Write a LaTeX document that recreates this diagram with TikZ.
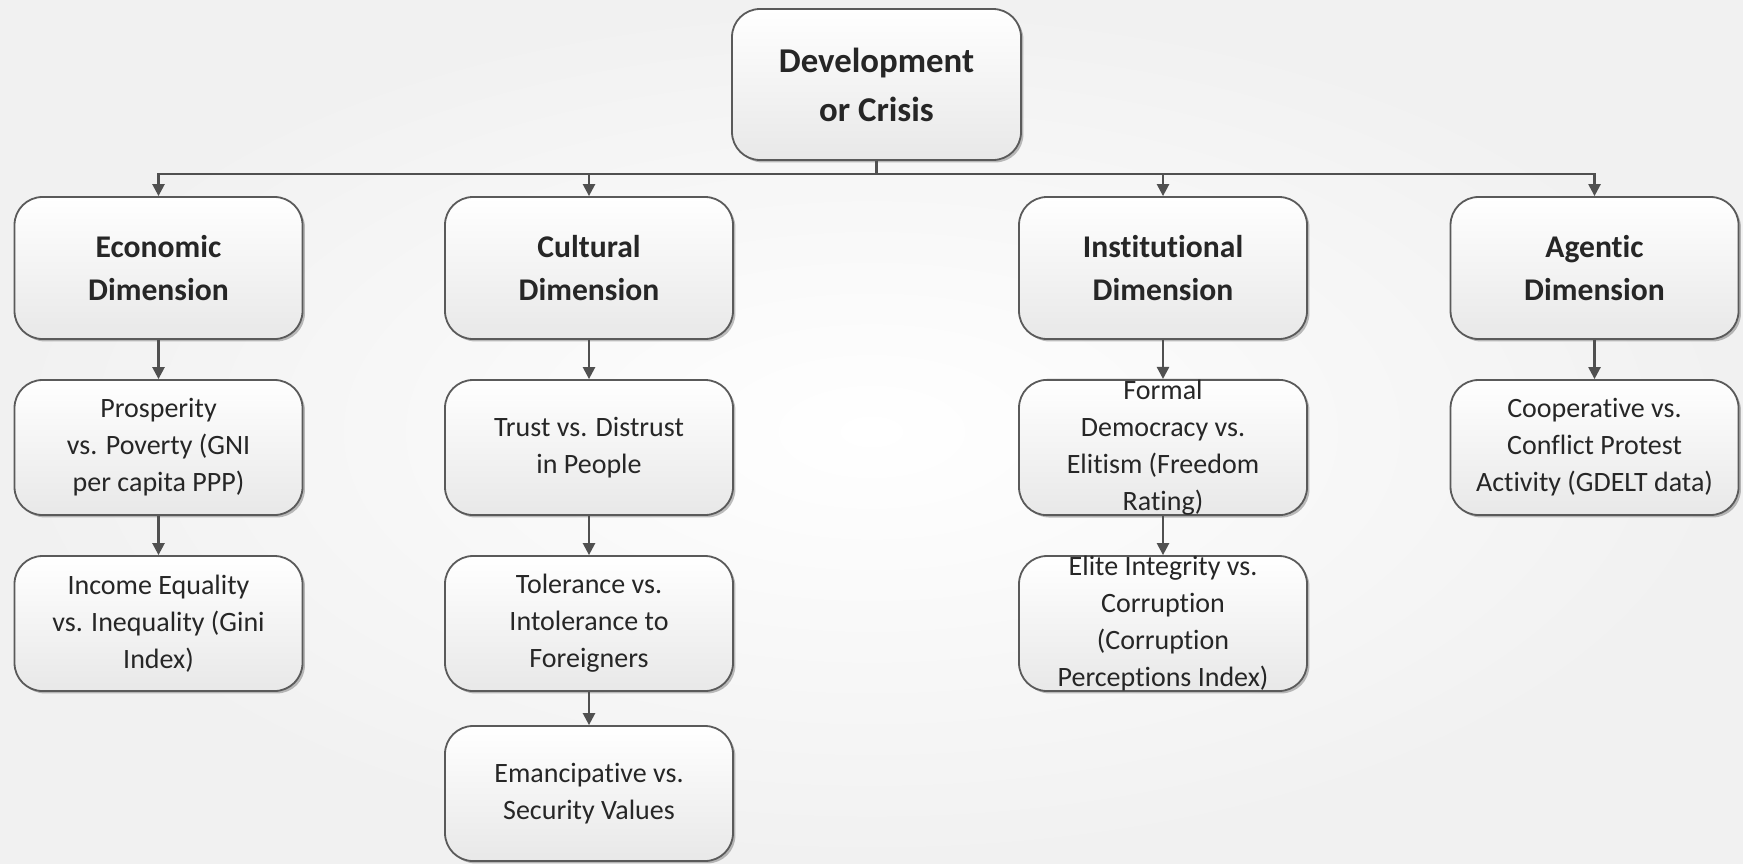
\documentclass[tikz,border=0pt]{standalone}
\usepackage{fontspec}
\setmainfont[Ligatures=NoCommon]{Carlito}
\usepackage{tikz}
\usetikzlibrary{arrows.meta}
\usetikzlibrary{shadows}

\definecolor{boxline}{HTML}{5A5A5A}
\definecolor{linkgray}{HTML}{505050}
\definecolor{boxbot}{HTML}{E8E8E8}
\definecolor{txt}{HTML}{262626}

\tikzset{
  dimbox/.style={draw=boxline, line width=0.9pt, rounded corners=14pt,
    top color=white, bottom color=boxbot, text=txt, align=center, inner sep=0pt,
    minimum width=144pt, minimum height=67.5pt,
    drop shadow={shadow xshift=1.2pt, shadow yshift=-1.2pt, opacity=0.25, fill=black},
    font=\fontsize{14}{18.5}\selectfont},
  headbox/.style={dimbox, minimum height=71pt, font=\fontsize{15.8}{21.5}\selectfont\bfseries},
  rootbox/.style={dimbox, minimum width=144.5pt, minimum height=75.5pt, font=\fontsize{17.4}{24.5}\selectfont\bfseries},
  link/.style={draw=linkgray, line width=1.2pt, -{Triangle[width=6pt,length=6pt]}}
}

\begin{document}
\begin{tikzpicture}[x=0.5pt, y=-0.5pt]
    % background
    \fill[inner color=white, outer color=gray!11] (0,0) rectangle (1743,863);
    \useasboundingbox (0,0) rectangle (1743,863);

    \node[rootbox] (root) at (876.5,84.5) {Development\\or Crisis};

    \node[headbox] (econ) at (158.5,268) {Economic\\Dimension};
    \node[headbox] (cult) at (589,268) {Cultural\\Dimension};
    \node[headbox] (inst) at (1163,268) {Institutional\\Dimension};
    \node[headbox] (agen) at (1594.5,268) {Agentic\\Dimension};

    \node[dimbox] (econA) at (158.5,447.5) {Prosperity\\vs. Poverty (GNI\\per capita PPP)};
    \node[dimbox] (econB) at (158.5,623.5) {Income Equality\\vs. Inequality (Gini\\Index)};

    \node[dimbox] (cultA) at (589,447.5) {Trust vs. Distrust\\in People};
    \node[dimbox] (cultB) at (589,623.5) {Tolerance vs.\\Intolerance to\\Foreigners};
    \node[dimbox] (cultC) at (589,793.5) {Emancipative vs.\\Security Values};

    \node[dimbox] (instA) at (1163,447.5) {Formal\\Democracy vs.\\Elitism (Freedom\\Rating)};
    \node[dimbox] (instB) at (1163,623.5) {Elite Integrity vs.\\Corruption\\(Corruption\\Perceptions Index)};

    \node[dimbox] (agenA) at (1594.5,447.5) {Cooperative vs.\\Conflict Protest\\Activity (GDELT data)};

    % root to dimensions
    \foreach \d in {econ,cult,inst,agen}
        \draw[link] (root.south) -- ++(0,13) -| (\d.north);

    % down the columns
    \foreach \a/\b in {econ/econA,econA/econB,cult/cultA,cultA/cultB,cultB/cultC,inst/instA,instA/instB,agen/agenA}
        \draw[link] (\a.south) -- (\b.north);
\end{tikzpicture}
\end{document}
